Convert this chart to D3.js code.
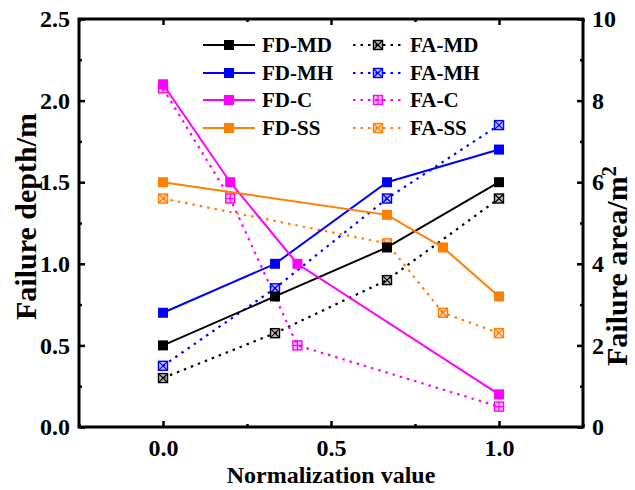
<!DOCTYPE html>
<html>
<head>
<meta charset="utf-8">
<script src="https://cdn.jsdelivr.net/npm/d3@7"></script>
<style>
  html, body { margin: 0; padding: 0; background: #fff; }
</style>
</head>
<body>
<svg id="chart" width="635" height="490"></svg>
<script>
// Failure depth (left axis, m) and failure area (right axis, m²) vs normalization value
const fdSeries = ["FD-MD", "FD-MH", "FD-C", "FD-SS"];
const faSeries = ["FA-MD", "FA-MH", "FA-C", "FA-SS"];
const colors = ["#000000", "#0000ff", "#ff00ff", "#ff7f00"];

const xMD = [0, 1/3, 2/3, 1];
const xMH = [0, 1/3, 2/3, 1];
const xC  = [0, 0.2, 0.4, 1];
const xSS = [0, 2/3, 5/6, 1];
const fdX = [xMD, xMH, xC, xSS];
const faX = [xMD, xMH, xC, xSS];

const fdMD = [0.5, 0.8, 1.1, 1.5];
const fdMH = [0.7, 1.0, 1.5, 1.7];
const fdC  = [2.1, 1.5, 1.0, 0.2];
const fdSS = [1.5, 1.3, 1.1, 0.8];

const faMD = [1.2, 2.3, 3.6, 5.6];
const faMH = [1.5, 3.4, 5.6, 7.4];
const faC  = [8.3, 5.6, 2.0, 0.5];
const faSS = [5.6, 4.5, 2.8, 2.3];

const fdValues = [fdMD, fdMH, fdC, fdSS];
const faValues = [faMD, faMH, faC, faSS];

const xTicks = [0.0, 0.5, 1.0];
const yLeftTicks = [0.0, 0.5, 1.0, 1.5, 2.0, 2.5];
const yRightTicks = [0, 2, 4, 6, 8, 10];

const FONT = "Liberation Serif, Times New Roman, serif";

const svg = d3.select("#chart");
const m = { left: 79, right: 583, top: 19, bottom: 427 };

const x = d3.scaleLinear().domain([-0.25, 1.25]).range([m.left, m.right]);
const yL = d3.scaleLinear().domain([0, 2.5]).range([m.bottom, m.top]);
const yR = d3.scaleLinear().domain([0, 10]).range([m.bottom, m.top]);

const plot = svg.append("g");

// series lines
const drawSeries = (xs, ys, yScale, color, dashed) => {
  const pts = xs.map((v, i) => [x(v), yScale(ys[i])]);
  plot.append("path")
    .attr("d", d3.line()(pts))
    .attr("fill", "none")
    .attr("stroke", color)
    .attr("stroke-width", dashed ? 2.2 : 2)
    .attr("stroke-dasharray", dashed ? "2.5,5" : null);
  return pts;
};

const filledMarker = (g, cx, cy, color) => {
  g.append("rect").attr("x", cx - 5).attr("y", cy - 5).attr("width", 10).attr("height", 10)
    .attr("fill", color);
};

const crossMarker = (g, cx, cy, color, plus) => {
  const s = 4.5;
  g.append("rect").attr("x", cx - s).attr("y", cy - s).attr("width", 2 * s).attr("height", 2 * s)
    .attr("fill", color).attr("fill-opacity", 0.25)
    .attr("stroke", color).attr("stroke-width", 1.4);
  const p = plus
    ? `M${cx - s},${cy}L${cx + s},${cy}M${cx},${cy - s}L${cx},${cy + s}`
    : `M${cx - s},${cy - s}L${cx + s},${cy + s}M${cx - s},${cy + s}L${cx + s},${cy - s}`;
  g.append("path").attr("d", p).attr("stroke", color).attr("stroke-width", 1.2).attr("fill", "none");
};

// area series first (dotted), then depth series on top
const faPts = faValues.map((ys, k) => drawSeries(faX[k], ys, yR, colors[k], true));
const fdPts = fdValues.map((ys, k) => drawSeries(fdX[k], ys, yL, colors[k], false));
faPts.forEach((pts, k) => pts.forEach(p => crossMarker(plot, p[0], p[1], colors[k], k === 2)));
fdPts.forEach((pts, k) => pts.forEach(p => filledMarker(plot, p[0], p[1], colors[k])));

// axes: ticks point inward
const axisG = svg.append("g");
const styleAxis = g => {
  g.attr("font-family", FONT).attr("font-weight", "bold");
  g.select(".domain").remove();
  g.selectAll("line").attr("stroke", "#000").attr("stroke-width", 2.5);
  g.selectAll("text").attr("font-size", 24).attr("fill", "#000")
    .attr("font-family", FONT).attr("font-weight", "bold");
};

// bottom
axisG.append("g").attr("transform", `translate(0,${m.bottom})`)
  .call(d3.axisBottom(x).tickValues(xTicks).tickFormat(d3.format(".1f")).tickSizeInner(-6).tickPadding(12))
  .call(styleAxis);
axisG.append("g").attr("transform", `translate(0,${m.bottom})`)
  .call(d3.axisBottom(x).tickValues([-0.25, 0.25, 0.75, 1.25]).tickFormat("").tickSizeInner(-3))
  .call(styleAxis);
// top
axisG.append("g").attr("transform", `translate(0,${m.top})`)
  .call(d3.axisTop(x).tickValues(xTicks).tickFormat("").tickSizeInner(-6))
  .call(styleAxis);
axisG.append("g").attr("transform", `translate(0,${m.top})`)
  .call(d3.axisTop(x).tickValues([-0.25, 0.25, 0.75, 1.25]).tickFormat("").tickSizeInner(-3))
  .call(styleAxis);
// left
axisG.append("g").attr("transform", `translate(${m.left},0)`)
  .call(d3.axisLeft(yL).tickValues(yLeftTicks).tickFormat(d3.format(".1f")).tickSizeInner(-6).tickPadding(9))
  .call(styleAxis);
axisG.append("g").attr("transform", `translate(${m.left},0)`)
  .call(d3.axisLeft(yL).tickValues([0.25, 0.75, 1.25, 1.75, 2.25]).tickFormat("").tickSizeInner(-3))
  .call(styleAxis);
// right
axisG.append("g").attr("transform", `translate(${m.right},0)`)
  .call(d3.axisRight(yR).tickValues(yRightTicks).tickFormat(d3.format("d")).tickSizeInner(-6).tickPadding(9))
  .call(styleAxis);
axisG.append("g").attr("transform", `translate(${m.right},0)`)
  .call(d3.axisRight(yR).tickValues([1, 3, 5, 7, 9]).tickFormat("").tickSizeInner(-3))
  .call(styleAxis);

// frame
svg.append("rect").attr("x", m.left).attr("y", m.top)
  .attr("width", m.right - m.left).attr("height", m.bottom - m.top)
  .attr("fill", "none").attr("stroke", "#000").attr("stroke-width", 3);

// axis titles
const title = sel => sel.attr("font-family", FONT).attr("font-weight", "bold").attr("font-size", 24).attr("fill", "#000");
svg.append("text").attr("x", (m.left + m.right) / 2).attr("y", 483)
  .attr("text-anchor", "middle").call(title).text("Normalization value");
svg.append("text").attr("transform", `translate(36,320) rotate(-90)`)
  .attr("text-anchor", "start").call(title).attr("font-size", 30).text("Failure depth/m");
const rt = svg.append("text").attr("transform", `translate(627,366) rotate(-90)`)
  .attr("text-anchor", "start").call(title).attr("font-size", 30);
rt.append("tspan").text("Failure area/m");
rt.append("tspan").attr("baseline-shift", "super").attr("font-size", 20).text("2");

// legend
const legend = svg.append("g");
const rowY = [45, 73, 100, 128];
fdSeries.forEach((name, k) => {
  const cy = rowY[k];
  legend.append("line").attr("x1", 203).attr("x2", 255).attr("y1", cy).attr("y2", cy)
    .attr("stroke", colors[k]).attr("stroke-width", 2);
  filledMarker(legend, 229, cy, colors[k]);
  legend.append("text").attr("x", 262).attr("y", cy + 7).call(title).attr("font-size", 21).text(name);
});
faSeries.forEach((name, k) => {
  const cy = rowY[k];
  legend.append("line").attr("x1", 353).attr("x2", 402).attr("y1", cy).attr("y2", cy)
    .attr("stroke", colors[k]).attr("stroke-width", 2.2).attr("stroke-dasharray", "2.5,5");
  crossMarker(legend, 378, cy, colors[k], k === 2);
  legend.append("text").attr("x", 410).attr("y", cy + 7).call(title).attr("font-size", 21).text(name);
});
</script>
</body>
</html>
